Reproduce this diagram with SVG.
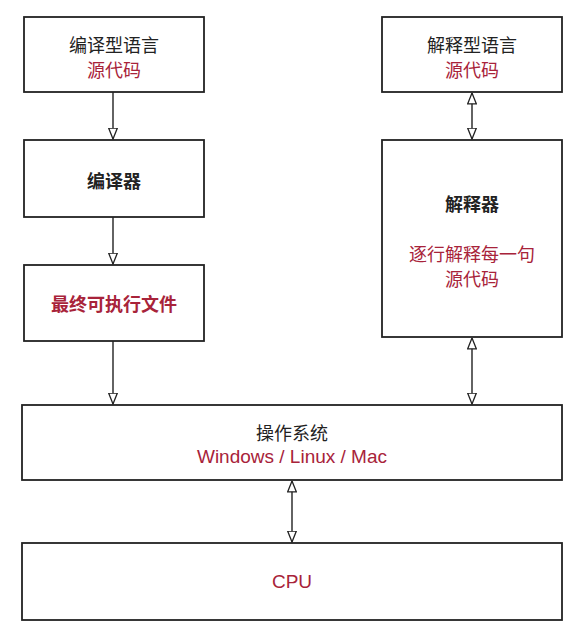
<svg xmlns="http://www.w3.org/2000/svg" width="582" height="635" viewBox="0 0 582 635">
<style>
.box{fill:#fff;stroke:#222;stroke-width:1.8}
.t{font-family:"Noto Sans CJK SC","Liberation Sans",sans-serif;font-size:18px;text-anchor:middle;dominant-baseline:central;fill:#222}
.r{fill:#a8233a}
.b{font-weight:bold}
.en{font-family:"Liberation Sans","Noto Sans CJK SC",sans-serif;font-size:19px}
.c{stroke:#222;stroke-width:1.4;fill:none}
</style>
<defs>
<marker id="ah" viewBox="0 0 12 10" refX="11.5" refY="5" markerWidth="12" markerHeight="10" markerUnits="userSpaceOnUse" orient="auto-start-reverse">
<path d="M0.7,0.7 L11.5,5 L0.7,9.3 z" fill="#fff" stroke="#222" stroke-width="1.3"/>
</marker>
</defs>
<rect width="582" height="635" fill="#fff"/>
<g id="connectors">
<line class="c" x1="113" y1="92" x2="113" y2="139" marker-end="url(#ah)"/>
<line class="c" x1="113" y1="217" x2="113" y2="264" marker-end="url(#ah)"/>
<line class="c" x1="113" y1="341" x2="113" y2="404" marker-end="url(#ah)"/>
<line class="c" x1="472" y1="93" x2="472" y2="139" marker-start="url(#ah)" marker-end="url(#ah)"/>
<line class="c" x1="472" y1="338" x2="472" y2="404" marker-start="url(#ah)" marker-end="url(#ah)"/>
<line class="c" x1="292" y1="481" x2="292" y2="542" marker-start="url(#ah)" marker-end="url(#ah)"/>
</g>
<g id="compiled-src">
<rect class="box" x="24" y="17" width="180" height="75"/>
<text class="t" x="114" y="44">编译型语言</text>
<text class="t r" x="114" y="69">源代码</text>
</g>
<g id="compiler">
<rect class="box" x="24" y="140" width="180" height="77"/>
<text class="t b" x="114" y="180">编译器</text>
</g>
<g id="executable">
<rect class="box" x="24" y="265" width="180" height="76"/>
<text class="t r b" x="114" y="303">最终可执行文件</text>
</g>
<g id="interpreted-src">
<rect class="box" x="382" y="17" width="180" height="75"/>
<text class="t" x="472" y="44">解释型语言</text>
<text class="t r" x="472" y="69">源代码</text>
</g>
<g id="interpreter">
<rect class="box" x="382" y="140" width="180" height="197"/>
<text class="t b" x="472" y="203">解释器</text>
<text class="t r" x="472" y="253">逐行解释每一句</text>
<text class="t r" x="472" y="278">源代码</text>
</g>
<g id="os">
<rect class="box" x="22" y="405" width="540" height="75"/>
<text class="t" x="292" y="432">操作系统</text>
<text class="t r en" x="292" y="456">Windows / Linux / Mac</text>
</g>
<g id="cpu">
<rect class="box" x="22" y="543" width="540" height="77"/>
<text class="t r en" x="292" y="581">CPU</text>
</g>
</svg>
